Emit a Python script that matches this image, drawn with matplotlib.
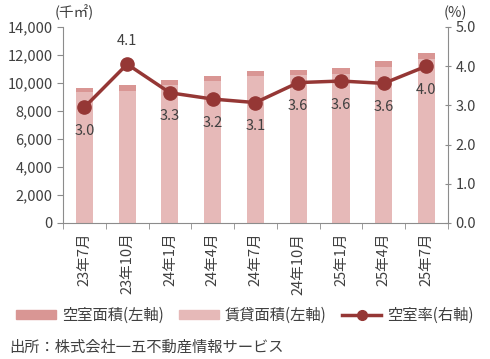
import matplotlib
matplotlib.use("Agg")
import matplotlib.pyplot as plt
import numpy as np
from matplotlib.patches import Patch
from matplotlib.lines import Line2D

plt.rcParams['font.family'] = ['Noto Sans CJK JP', 'DejaVu Sans']

# data
labels = ['23年7月', '23年10月', '24年1月', '24年4月', '24年7月',
          '24年10月', '25年1月', '25年4月', '25年7月']
total_area = [9650, 9850, 10210, 10500, 10850, 10930, 11050, 11570, 12160]
vacancy_rate = [2.95, 4.05, 3.32, 3.16, 3.07, 3.58, 3.62, 3.56, 4.00]
rate_labels = ['3.0', '4.1', '3.3', '3.2', '3.1', '3.6', '3.6', '3.6', '4.0']

vacant = [t * r / 100 for t, r in zip(total_area, vacancy_rate)]
rented = [t - v for t, v in zip(total_area, vacant)]

c_rent = '#E6B9B8'
c_vac = '#D99694'
c_line = '#953735'
c_ax = '#8C8C8C'
c_txt = '#404040'

fig = plt.figure(figsize=(4.9, 3.59), dpi=100)
ax = fig.add_axes([0.1286, 0.379, 0.7854, 0.546])
x = np.arange(len(labels))

ax.bar(x, rented, width=0.4, color=c_rent, zorder=2)
ax.bar(x, vacant, width=0.4, bottom=rented, color=c_vac, zorder=2)
ax.set_ylim(0, 14000)
ax.set_yticks(range(0, 14001, 2000))
ax.set_yticklabels([f'{v:,}' for v in range(0, 14001, 2000)])
ax.set_xlim(-0.5, len(labels) - 0.5)
ax.set_xticks(x)
ax.set_xticklabels(labels, rotation=90)
ax.set_xticks(np.arange(-0.5, len(labels)), minor=True)
ax.tick_params(axis='x', which='major', length=0, pad=7)
ax.tick_params(axis='x', which='minor', length=4, color=c_ax, direction='out')
ax.tick_params(axis='y', length=4, color=c_ax, direction='out')
ax.tick_params(labelsize=10.5, labelcolor=c_txt)

ax2 = ax.twinx()
ax2.plot(x, vacancy_rate, color=c_line, lw=2.5, marker='o', ms=9.5, zorder=3)
ax2.set_ylim(0, 5)
ax2.set_yticks(np.arange(0, 5.01, 1))
ax2.set_yticklabels([f'{v:.1f}' for v in np.arange(0, 5.01, 1)])
ax2.tick_params(axis='y', length=4, color=c_ax, direction='inout', labelsize=10.5, labelcolor=c_txt)

for a in (ax, ax2):
    a.spines['top'].set_visible(False)
    for s in ('left', 'right', 'bottom'):
        a.spines[s].set_color(c_ax)
ax.spines['right'].set_visible(False)
ax2.spines['left'].set_visible(False)
ax2.spines['bottom'].set_visible(False)

for i, (r, t) in enumerate(zip(vacancy_rate, rate_labels)):
    off = 12 if i == 1 else -12
    va = 'bottom' if i == 1 else 'top'
    ax2.annotate(t, (i, r), xytext=(0, off), textcoords='offset points',
                 ha='center', va=va, fontsize=10.5, color=c_txt)

fig.text(0.112, 0.965, '(千㎡)', fontsize=10.5, color=c_txt, ha='left', va='center')
fig.text(0.93, 0.965, '(%)', fontsize=10.5, color=c_txt, ha='center', va='center')

handles = [Patch(color=c_vac), Patch(color=c_rent),
           Line2D([], [], color=c_line, lw=2.5, marker='o', ms=7)]
fig.legend(handles, ['空室面積(左軸)', '賃貸面積(左軸)', '空室率(右軸)'],
           loc='center', bbox_to_anchor=(0.5, 0.122), ncol=3, frameon=False,
           fontsize=11, handlelength=2.6, handleheight=0.5, columnspacing=1.0,
           handletextpad=0.4, labelcolor=c_txt)

fig.text(0.018, 0.033, '出所：株式会社一五不動産情報サービス', fontsize=11, color=c_txt,
         ha='left', va='center')

fig.savefig('out.png', dpi=100)
